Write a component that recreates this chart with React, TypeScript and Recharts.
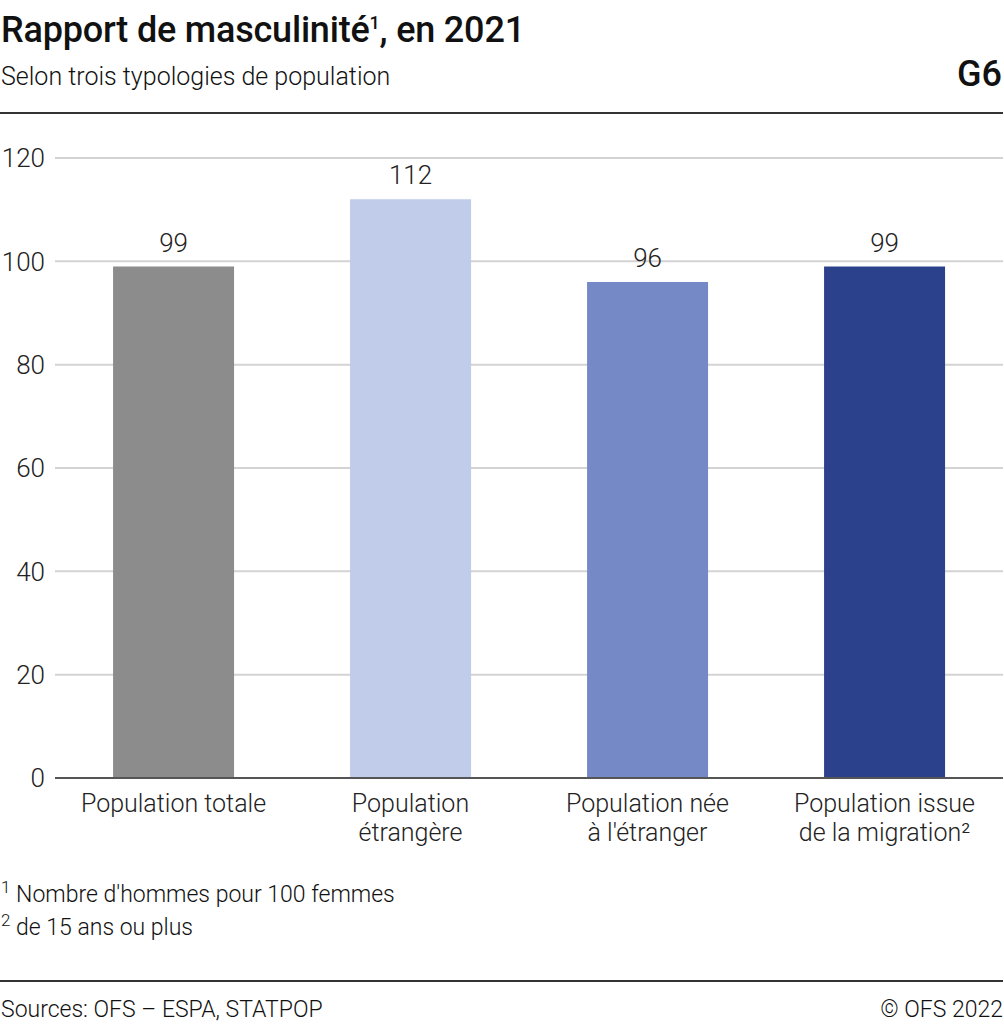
import React from "react";
import { BarChart, Bar, XAxis, YAxis, CartesianGrid, LabelList, Cell } from "recharts";

const categories = ["Population totale", "Population\nétrangère", "Population née\nà l'étranger", "Population issue\nde la migration²"];
const values = [99, 112, 96, 99];
const colors = ["#8c8c8c", "#c1cbea", "#7489c6", "#2c418c"];
const yTicks = [0, 20, 40, 60, 80, 100, 120];

const data = categories.map((c, i) => ({ name: c, value: values[i] }));

const FONT = "Roboto, 'Noto Sans', sans-serif";

const CatTick = (props: any) => {
  const { x, y, payload } = props;
  const lines = String(payload.value).split("\n");
  return (
    <text x={x} y={y} textAnchor="middle" fill="#222" fontSize={25} fontFamily={FONT} fontWeight={300}>
      {lines.map((l: string, i: number) => (
        <tspan key={i} x={x} dy={i === 0 ? 26 : 29}>{l}</tspan>
      ))}
    </text>
  );
};

export default function App() {
  return (
    <div style={{ position: "absolute", left: 0, top: 0, width: 1004, height: 1024, background: "#fff", fontFamily: FONT, color: "#111" }}>
      <div style={{ position: "absolute", left: 1, top: 9, fontSize: 36, fontWeight: 500, letterSpacing: -0.2, whiteSpace: "nowrap", lineHeight: "normal" }}>
        Rapport de masculinité<span style={{ fontSize: 18, verticalAlign: "top", position: "relative", top: 3 }}>1</span>, en 2021
      </div>
      <div style={{ position: "absolute", left: 1, top: 62, fontSize: 25, fontWeight: 300, whiteSpace: "nowrap" }}>
        Selon trois typologies de population
      </div>
      <div style={{ position: "absolute", right: 2, top: 53, fontSize: 36, fontWeight: 500 }}>G6</div>
      <div style={{ position: "absolute", left: 0, top: 112, width: 1003, height: 2, background: "#333" }} />

      <div style={{ position: "absolute", left: 0, top: 0 }}>
        <BarChart width={1004} height={870} data={data} margin={{ top: 158, right: 1, bottom: 0, left: 0 }} barCategoryGap="24.5%">
          <CartesianGrid horizontal vertical={false} stroke="#d3d3d3" strokeWidth={2} />
          <YAxis
            domain={[0, 120]}
            ticks={yTicks}
            width={55}
            axisLine={false}
            tickLine={false}
            tickSize={0}
            tickMargin={10}
            interval={0}
            tick={{ fill: "#222", fontSize: 26, fontFamily: FONT, fontWeight: 300 }}
          />
          <XAxis
            dataKey="name"
            height={92}
            axisLine={{ stroke: "#555", strokeWidth: 2 }}
            tickLine={false}
            interval={0}
            tick={<CatTick />}
          />
          <Bar dataKey="value" isAnimationActive={false}>
            {data.map((d, i) => (
              <Cell key={i} fill={colors[i]} />
            ))}
            <LabelList dataKey="value" position="top" offset={15} fill="#222" fontSize={26} fontFamily={FONT} fontWeight={300} />
          </Bar>
        </BarChart>
      </div>

      <div style={{ position: "absolute", left: 1, top: 881, fontSize: 23, fontWeight: 300, whiteSpace: "nowrap" }}>
        <span style={{ fontSize: 17, verticalAlign: "top", position: "relative", top: -4 }}>1</span> Nombre d'hommes pour 100 femmes
      </div>
      <div style={{ position: "absolute", left: 1, top: 914, fontSize: 23, fontWeight: 300, whiteSpace: "nowrap" }}>
        <span style={{ fontSize: 17, verticalAlign: "top", position: "relative", top: -4 }}>2</span> de 15 ans ou plus
      </div>
      <div style={{ position: "absolute", left: 0, top: 980, width: 1003, height: 2, background: "#333" }} />
      <div style={{ position: "absolute", left: 1, top: 996, fontSize: 23, fontWeight: 300, whiteSpace: "nowrap" }}>
        Sources: OFS – ESPA, STATPOP
      </div>
      <div style={{ position: "absolute", right: 1, top: 996, fontSize: 23, fontWeight: 300, whiteSpace: "nowrap" }}>
        © OFS 2022
      </div>
    </div>
  );
}
